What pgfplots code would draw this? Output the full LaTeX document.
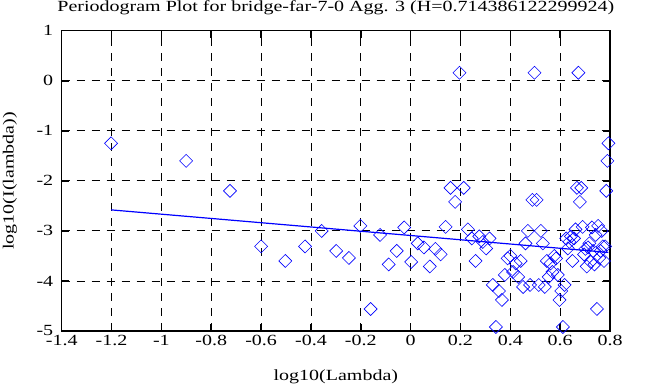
\documentclass[border=0pt]{standalone}
\usepackage{fontspec}
\setmainfont{Liberation Serif}[FakeStretch=1.29]
\usepackage{pgfplots}
\pgfplotsset{compat=1.18}
\usepackage{pgfplotstable}
\definecolor{pblue}{RGB}{0,0,255}
\pgfplotstableread{
x y
-1.20182 -1.25
-0.90079 -1.60
-0.72470 -2.20
-0.59976 -3.31
-0.50285 -3.60
-0.42367 -3.31
-0.35672 -3.00
-0.29873 -3.40
-0.24758 -3.54
-0.20182 -2.90
-0.16043 -4.56
-0.12264 -3.08
-0.08788 -3.67
-0.05569 -3.40
-0.02573 -2.93
0.00230 -3.62
0.02863 -3.25
0.05345 -3.33
0.07693 -3.71
0.09921 -3.36
0.12040 -3.47
0.14060 -2.92
0.15991 -2.14
0.17839 -2.42
0.19612 0.16
0.21315 -2.14
0.22954 -2.97
0.24534 -3.15
0.26058 -3.60
0.27530 -3.11
0.28954 -3.22
0.30333 -3.35
0.31669 -3.15
0.32966 -4.08
0.34225 -4.92
0.35448 -4.20
0.36638 -4.38
0.37796 -3.88
0.38924 -3.55
0.40024 -3.50
0.41096 -3.82
0.42143 -3.65
0.43165 -3.92
0.44163 -3.60
0.45139 -4.12
0.46094 -3.25
0.47028 -3.00
0.47942 -4.08
0.48838 -2.38
0.49715 0.16
0.50574 -2.38
0.51417 -4.08
0.52245 -3.00
0.53056 -3.25
0.53853 -4.12
0.54636 -3.60
0.55405 -3.92
0.56160 -3.65
0.56902 -3.82
0.57632 -3.50
0.58350 -3.55
0.59056 -3.88
0.59751 -4.38
0.60435 -4.20
0.61108 -4.92
0.61771 -4.08
0.62425 -3.15
0.63068 -3.35
0.63702 -3.22
0.64327 -3.11
0.64943 -3.60
0.65550 -3.15
0.66149 -2.97
0.66740 -2.14
0.67323 0.16
0.67898 -2.42
0.68466 -2.14
0.69027 -2.92
0.69580 -3.47
0.70126 -3.36
0.70666 -3.71
0.71198 -3.33
0.71725 -3.25
0.72245 -3.62
0.72759 -2.93
0.73267 -3.40
0.73769 -3.67
0.74265 -3.08
0.74756 -4.56
0.75241 -2.90
0.75721 -3.54
0.76196 -3.40
0.76665 -3.00
0.77130 -3.31
0.77589 -3.60
0.78044 -3.31
0.78494 -2.20
0.78940 -1.60
0.79381 -1.25
}\pdata
\begin{document}
\begin{tikzpicture}
\useasboundingbox (-61.7pt,-56pt) rectangle (601.3pt,331pt);
\begin{axis}[
  at={(0pt,0pt)}, anchor=south west,
  scale only axis, width=548.3pt, height=300.3pt,
  xmin=-1.4, xmax=0.8, ymin=-5, ymax=1,
  clip=false,
  font=\fontsize{15.5}{18}\selectfont,
  xtick={-1.4,-1.2,-1,-0.8,-0.6,-0.4,-0.2,0,0.2,0.4,0.6,0.8},
  xticklabels={-1.4,-1.2,-1,-0.8,-0.6,-0.4,-0.2,0,0.2,0.4,0.6,0.8},
  ytick={-5,-4,-3,-2,-1,0,1},
  yticklabels={-5,-4,-3,-2,-1,0,1},
  tick align=inside, major tick length=7pt,
  tick style={black, line width=1.6pt},
  axis line style={black, line width=1.6pt},
  grid=major,
  major grid style={black, line width=0.8pt, dash pattern=on 8pt off 7pt},
  xticklabel style={anchor=base, yshift=-15pt},
  yticklabel style={anchor=east, xshift=-5pt},
  title={Periodogram Plot for bridge-far-7-0 Agg. 3 (H=0.714386122299924)},
  title style={at={(axis description cs:0.5,1)}, anchor=base, yshift=13pt, inner sep=0pt},
  xlabel={log10(Lambda)},
  xlabel style={at={(axis description cs:0.5,0)}, anchor=base, yshift=-50pt, inner sep=0pt},
  ylabel={log10(I(lambda))},
  ylabel style={at={(axis description cs:-0.0943,0.5)}, anchor=center, rotate=0, inner sep=0pt},
]
\addplot[only marks, mark=square, mark size=4.6pt, mark options={rotate=45, pblue, line width=0.6pt}] table[x=x,y=y] {\pdata};
\addplot[pblue, line width=1.2pt] coordinates {(-1.2018,-2.58) (0.7938,-3.43)};
\end{axis}
\end{tikzpicture}
\end{document}
